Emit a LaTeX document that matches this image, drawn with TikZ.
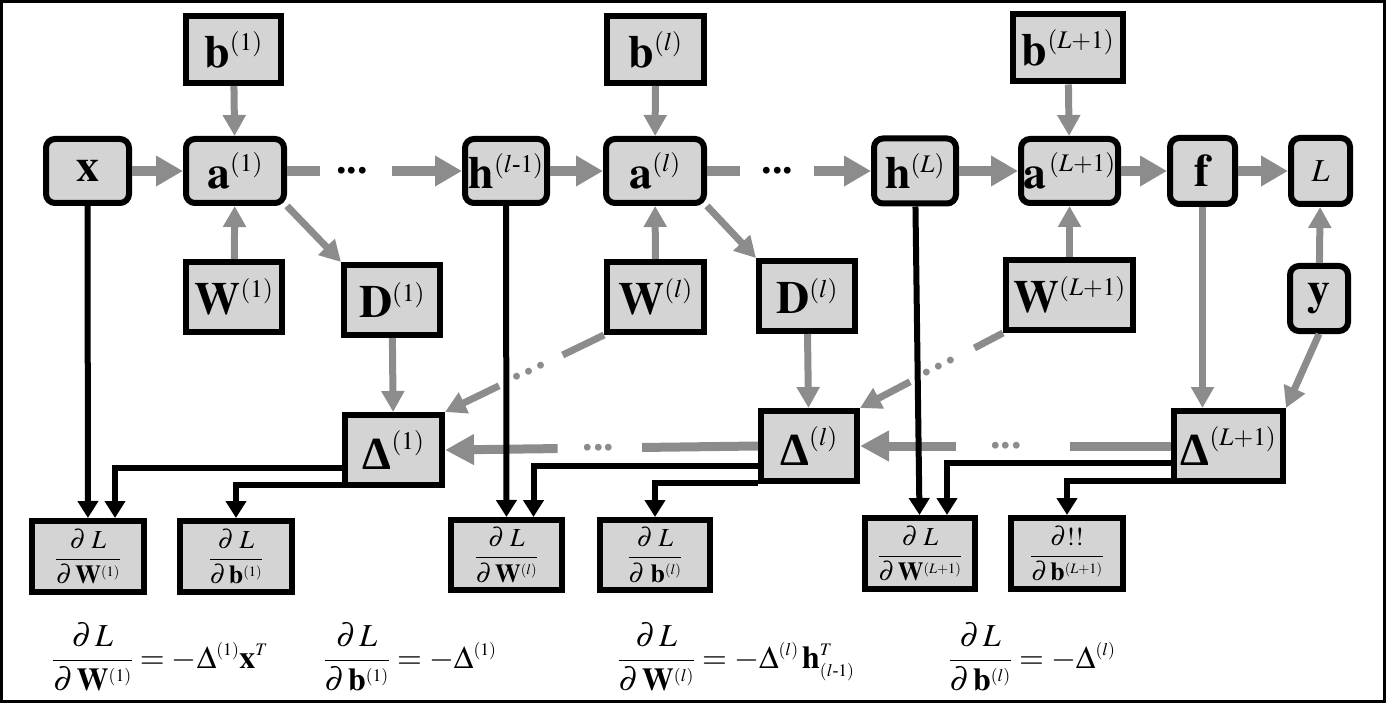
\documentclass[tikz,border=0pt]{standalone}
\usepackage{amsmath}
\usepackage{mathptmx}
\usepackage{fontspec}
\setmainfont{Liberation Serif}
\usetikzlibrary{calc,arrows.meta}
\renewcommand{\defaultscriptratio}{0.55}
\definecolor{boxgray}{RGB}{212,212,212}
\definecolor{arrowgray}{RGB}{140,140,140}

\begin{document}
\begin{tikzpicture}[x=1pt, y=-1pt]
  \tikzset{
    box/.style={draw=black, line width=6pt, fill=boxgray, inner sep=0pt, font=\fontsize{46}{50}\selectfont},
    rbox/.style={box, rounded corners=9pt},
    gbox/.style={box, font=\fontsize{26}{30}\selectfont},
    fwdline/.style={draw=arrowgray, line width=10pt},
    fwd/.style={fwdline, -{Triangle[length=27pt, width=29pt]}},
    feed/.style={draw=arrowgray, line width=7pt, -{Triangle[length=21pt, width=22pt]}},
    feedline/.style={draw=arrowgray, line width=7pt},
    back/.style={fwdline, line width=9pt, -{Triangle[length=29pt, width=29pt]}},
    blk/.style={draw=black, line width=6pt, -{Triangle[length=17pt, width=20pt]}},
    dots/.style={inner sep=0pt, font=\fontsize{42}{42}\bfseries\selectfont},
    eq/.style={inner sep=0pt, font=\fontsize{32}{36}\selectfont}
  }

  \useasboundingbox (0,0) rectangle (1386,703);
  \draw[line width=3pt] (1.5,1.5) rectangle (1384.5,701.5);

  % Layer 1
  \node[rbox, minimum width=83pt, minimum height=64pt] (x) at (87.5,171) {$\mathbf{x}$};
  \node[rbox, minimum width=98pt, minimum height=64pt] (a1) at (235,171) {$\mathbf{a}^{(1)}$};
  \node[box, minimum width=95pt, minimum height=67pt] (b1) at (233.5,49.5) {$\mathbf{b}^{(1)}$};
  \node[box, minimum width=96pt, minimum height=70pt] (W1) at (234,297) {$\mathbf{W}^{(1)}$};
  \node[box, minimum width=96pt, minimum height=70pt] (D1) at (392,300) {$\mathbf{D}^{(1)}$};

  % Layer l
  \node[rbox, minimum width=82pt, minimum height=64pt] (hp) at (506,171) {$\mathbf{h}^{(l\text{-}1)}$};
  \node[rbox, minimum width=98pt, minimum height=64pt] (al) at (655,171) {$\mathbf{a}^{(l)}$};
  \node[box, minimum width=97pt, minimum height=67pt] (bl) at (655.5,49.5) {$\mathbf{b}^{(l)}$};
  \node[box, minimum width=97pt, minimum height=70pt] (Wl) at (655.5,297) {$\mathbf{W}^{(l)}$};
  \node[box, minimum width=96pt, minimum height=70pt] (Dl) at (807,296) {$\mathbf{D}^{(l)}$};

  % Layer L+1 and the loss
  \node[rbox, minimum width=82pt, minimum height=65pt] (hL) at (915,171) {$\mathbf{h}^{(L)}$};
  \node[rbox, minimum width=97pt, minimum height=64pt] (aL) at (1069.5,171) {$\mathbf{a}^{\,(L+1)}$};
  \node[box, minimum width=110pt, minimum height=67pt] (bL) at (1068,48) {$\mathbf{b}^{(L+1)}$};
  \node[box, minimum width=127pt, minimum height=70pt] (WL) at (1069.5,295) {$\mathbf{W}^{(L+1)}$};
  \node[rbox, minimum width=65pt, minimum height=66pt] (f) at (1202.5,171) {$\mathbf{f}$};
  \node[rbox, minimum width=59pt, minimum height=66pt, font=\fontsize{32}{36}\selectfont] (L) at (1320.5,171) {$L$};
  \node[rbox, minimum width=58pt, minimum height=65pt] (y) at (1319,298.5) {$\mathbf{y}$};

  % Deltas
  \node[box, minimum width=97pt, minimum height=70pt] (Del1) at (393.5,450) {$\mbox{\bfseries Δ}^{(1)}$};
  \node[box, minimum width=96pt, minimum height=70pt] (Dell) at (809,446) {$\mbox{\bfseries Δ}^{(l)}$};
  \node[box, minimum width=109pt, minimum height=70pt] (DelL) at (1228.5,446) {$\mbox{\bfseries Δ}^{(L+1)}$};

  % Gradients
  \node[gbox, minimum width=112pt, minimum height=71pt] (gW1) at (88,556.5) {$\displaystyle\frac{\partial\; L}{\partial\,\mathbf{W}^{(1)}}$};
  \node[gbox, minimum width=112pt, minimum height=71pt] (gb1) at (236,556.5) {$\displaystyle\frac{\partial\; L}{\partial\,\mathbf{b}^{(1)}}$};
  \node[gbox, minimum width=111pt, minimum height=70pt] (gWl) at (506.5,555) {$\displaystyle\frac{\partial\; L}{\partial\,\mathbf{W}^{(l)}}$};
  \node[gbox, minimum width=110pt, minimum height=70pt] (gbl) at (655,555) {$\displaystyle\frac{\partial\; L}{\partial\;\mathbf{b}^{(l)}}$};
  \node[gbox, minimum width=110pt, minimum height=71pt] (gWL) at (920,553.5) {$\displaystyle\frac{\partial\; L}{\partial\,\mathbf{W}^{(L+1)}}$};
  \node[gbox, minimum width=112pt, minimum height=71pt] (gbL) at (1067,553.5) {$\displaystyle\frac{\partial!!}{\partial\,\mathbf{b}^{(L+1)}}$};

  % Update rules
  \node[eq] (eq1) at (160,657) {$\displaystyle\frac{\partial\, L}{\partial\,\mathbf{W}^{(1)}} = -\Delta^{(1)}\mathbf{x}^{T}$};
  \node[eq] (eq2) at (410,657) {$\displaystyle\frac{\partial\, L}{\partial\,\mathbf{b}^{(1)}} = -\Delta^{(1)}$};
  \node[eq] (eq3) at (736,657) {$\displaystyle\frac{\partial\, L}{\partial\,\mathbf{W}^{(l)}} = -\Delta^{(l)}\,\mathbf{h}^{T}_{(l\text{-}1)}$};
  \node[eq] (eq4) at (1032,657) {$\displaystyle\frac{\partial\, L}{\partial\,\mathbf{b}^{(l)}} = -\Delta^{(l)}$};

  % Forward pass
  \draw[fwd] (x) -- (a1);
  \draw[feed] (b1) -- (a1);
  \draw[feed] (W1) -- (a1);
  \draw[feed] (a1.south east) -- (D1.north west);
  \draw[fwdline] (a1.east) -- ($(a1.east)!0.19!(hp.west)$);
  \node[dots] (dt1) at ($(a1.east)!0.37!(hp.west)$) {...};
  \draw[fwd] ($(a1.east)!0.6!(hp.west)$) -- (hp.west);

  \draw[fwd] (hp) -- (al);
  \draw[feed] (bl) -- (al);
  \draw[feed] (Wl) -- (al);
  \draw[feed] (al.south east) -- (Dl.north west);
  \draw[fwdline] (al.east) -- ($(al.east)!0.2!(hL.west)$);
  \node[dots] (dt2) at ($(al.east)!0.43!(hL.west)$) {...};
  \draw[fwd] ($(al.east)!0.65!(hL.west)$) -- (hL.west);

  \draw[fwd] (hL) -- (aL);
  \draw[feed] (bL) -- (aL);
  \draw[feed] (WL) -- (aL);
  \draw[fwd] (aL) -- (f);
  \draw[fwd] (f) -- (L);
  \draw[feed] (y) -- (L);

  % Backward pass
  \draw[feed] (f.south) -- (f.south |- DelL.north);
  \draw[feed] (y.south) -- (DelL.north east);
  \draw[feed] (D1) -- (Del1);
  \draw[feed] (Dl) -- (Dell);

  \draw[feedline] (WL.south west) -- ($(WL.south west)!0.2!(Dell.north east)$);
  \path (WL.south west) -- node[dots, text=arrowgray, sloped, pos=0.45] (dd2) {.\kern3pt.\kern3pt.} (Dell.north east);
  \draw[feed] ($(WL.south west)!0.65!(Dell.north east)$) -- (Dell.north east);

  \draw[feedline] (Wl.south west) -- ($(Wl.south west)!0.26!(Del1.north east)$);
  \path (Wl.south west) -- node[dots, text=arrowgray, sloped, pos=0.47] (dd1) {.\kern3pt.\kern3pt.} (Del1.north east);
  \draw[feed] ($(Wl.south west)!0.66!(Del1.north east)$) -- (Del1.north east);

  \draw[fwdline, line width=9pt] (DelL.west) -- ($(DelL.west)!0.325!(Dell.east)$);
  \node[dots, text=arrowgray] (db2) at ($(DelL.west)!0.53!(Dell.east)$) {...};
  \draw[back] ($(DelL.west)!0.69!(Dell.east)$) -- (Dell.east);

  \draw[fwdline, line width=9pt] (Dell.west) -- ($(Dell.west)!0.37!(Del1.east)$);
  \node[dots, text=arrowgray] (db1) at ($(Dell.west)!0.51!(Del1.east)$) {...};
  \draw[back] ($(Dell.west)!0.64!(Del1.east)$) -- (Del1.east);

  % Gradients of the weights and biases
  \draw[blk] (x) -- (gW1);
  \draw[blk] ([yshift=-18pt]Del1.west) -| ([xshift=27pt]gW1.north);
  \draw[blk] ([yshift=-35pt]Del1.west) -| (gb1.north);
  \draw[blk] (hp) -- (gWl);
  \draw[blk] ([yshift=-20pt]Dell.west) -| ([xshift=27pt]gWl.north);
  \draw[blk] ([yshift=-37pt]Dell.west) -| (gbl.north);
  \draw[blk] (hL) -- (gWL);
  \draw[blk] ([yshift=-17pt]DelL.west) -| ([xshift=27pt]gWL.north);
  \draw[blk] ([yshift=-35pt]DelL.west) -| (gbL.north);

\end{tikzpicture}
\end{document}
